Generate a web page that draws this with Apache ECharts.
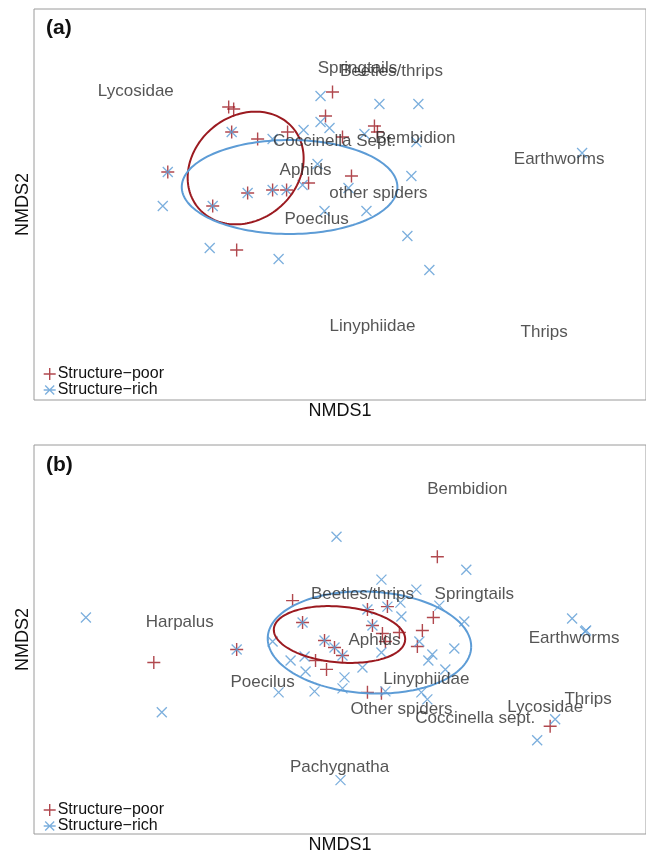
<!DOCTYPE html>
<html>
<head>
<meta charset="utf-8">
<script src="https://cdn.jsdelivr.net/npm/echarts@6/dist/echarts.min.js"></script>
<style>
html,body{margin:0;padding:0;background:#fff;}
#chart{width:646px;height:855px;}
</style>
</head>
<body>
<div id="chart"></div>
<script>
// ---------- Panel (a) ----------
const poorA = [
  [-0.07, 1.13], [-1.11, 0.98], [-1.06, 0.96], [-1.08, 0.73], [-0.82, 0.66],
  [-0.52, 0.73], [-0.14, 0.89], [-1.72, 0.33], [-0.31, 0.22], [-0.92, 0.12],
  [-0.67, 0.15], [-0.53, 0.15], [-1.27, -0.01], [-1.03, -0.45], [0.03, 0.68],
  [0.35, 0.79], [0.38, 0.73], [0.12, 0.29]
];
const richA = [
  [-0.19, 1.09], [0.40, 1.01], [0.79, 1.01], [-0.19, 0.83], [-0.10, 0.77],
  [-0.36, 0.75], [-0.67, 0.66], [0.25, 0.71], [0.77, 0.63], [2.43, 0.52],
  [-0.22, 0.41], [0.72, 0.29], [0.09, 0.17], [-0.37, 0.20], [-1.08, 0.73],
  [-1.72, 0.33], [-0.92, 0.12], [-0.67, 0.15], [-0.53, 0.15], [-1.27, -0.01],
  [-1.77, -0.01], [-1.30, -0.43], [-0.61, -0.54], [-0.15, -0.06], [0.27, -0.06],
  [0.68, -0.31], [0.90, -0.65]
];
const taxaA = ['Lycosidae', 'Springtails', 'Beetles/thrips', 'Coccinella Sept.', 'Bembidion',
  'Earthworms', 'Aphids', 'other spiders', 'Poecilus', 'Linyphiidae', 'Thrips'];
const taxaPosA = [
  [-2.04, 1.14], [0.18, 1.37], [0.52, 1.34], [-0.05, 0.64], [0.76, 0.67],
  [2.20, 0.46], [-0.34, 0.35], [0.39, 0.12], [-0.23, -0.14], [0.33, -1.21], [2.05, -1.27]
];
// ellipse: [centre x, centre y, semi-axis a, semi-axis b, angle deg]
const ellipsePoorA = [-0.94, 0.37, 0.62, 0.52, 40];
const ellipseRichA = [-0.50, 0.18, 1.08, 0.47, 0];

// ---------- Panel (b) ----------
const poorB = [
  [-0.47, 0.39], [-0.37, 0.17], [-1.03, -0.10], [-1.86, -0.23], [-0.15, -0.01],
  [-0.05, -0.08], [0.03, -0.16], [-0.24, -0.21], [-0.13, -0.30], [0.28, -0.53],
  [0.42, -0.54], [0.98, 0.83], [0.28, 0.30], [0.48, 0.33], [0.33, 0.14],
  [0.94, 0.22], [0.83, 0.09], [0.43, 0.06], [0.60, 0.07], [0.46, -0.02],
  [0.78, -0.07], [2.11, -0.87]
];
const richB = [
  [-0.03, 1.03], [-2.54, 0.22], [-1.78, -0.73], [-0.37, 0.17], [-1.03, -0.10],
  [-0.67, -0.02], [-0.15, -0.01], [-0.05, -0.08], [0.03, -0.16], [-0.49, -0.21],
  [-0.35, -0.17], [-0.34, -0.32], [-0.61, -0.53], [-0.25, -0.52], [0.05, -0.38],
  [0.03, -0.49], [0.01, -1.41], [1.27, 0.70], [0.42, 0.60], [0.77, 0.50],
  [0.61, 0.37], [0.28, 0.30], [0.48, 0.33], [0.62, 0.23], [1.00, 0.34],
  [1.25, 0.18], [0.33, 0.14], [0.80, -0.02], [1.15, -0.09], [0.93, -0.15],
  [0.89, -0.21], [0.42, -0.13], [0.23, -0.28], [1.06, -0.30], [0.46, -0.52],
  [0.82, -0.53], [0.88, -0.60], [2.33, 0.21], [2.46, 0.08], [2.47, 0.09],
  [2.16, -0.80], [1.98, -1.01]
];
const taxaB = ['Bembidion', 'Harpalus', 'Beetles/thrips', 'Springtails', 'Earthworms',
  'Aphids', 'Poecilus', 'Linyphiidae', 'Other spiders', 'Coccinella sept.', 'Lycosidae',
  'Thrips', 'Pachygnatha'];
const taxaPosB = [
  [1.28, 1.51], [-1.60, 0.17], [0.23, 0.45], [1.35, 0.45], [2.35, 0.01],
  [0.35, -0.01], [-0.77, -0.43], [0.87, -0.40], [0.62, -0.70], [1.36, -0.79],
  [2.06, -0.68], [2.49, -0.60], [0.00, -1.28]
];
const ellipsePoorB = [0.00, 0.05, 0.66, 0.28, -5];
const ellipseRichB = [0.30, -0.03, 1.02, 0.51, -3];

const groupNames = ['Structure\u2212poor', 'Structure\u2212rich'];

// ---------- styling ----------
const RED = '#9e1a22';
const BLUE = '#5b9bd5';
const RED_LINE = '#9b1a20';
const BLUE_LINE = '#5d9cd6';
const FONT = '"Liberation Sans", Arial, sans-serif';
const PLUS = 'path://M0,-1L0,1M-1,0L1,0';
const CROSS = 'path://M-1,-1L1,1M-1,1L1,-1';
const STAR = 'path://M-1,0L1,0M-0.75,-0.75L0.75,0.75M-0.75,0.75L0.75,-0.75';

function ellipseRender(color) {
  return function (params, api) {
    const cx = api.value(0), cy = api.value(1), a = api.value(2), b = api.value(3);
    const ang = api.value(4) * Math.PI / 180;
    const pts = [];
    const n = 160;
    for (let i = 0; i <= n; i++) {
      const t = i / n * 2 * Math.PI;
      const x = a * Math.cos(t), y = b * Math.sin(t);
      pts.push(api.coord([cx + x * Math.cos(ang) - y * Math.sin(ang),
                          cy + x * Math.sin(ang) + y * Math.cos(ang)]));
    }
    return { type: 'polyline', shape: { points: pts },
             style: { stroke: color, lineWidth: 2, fill: null } };
  };
}

function panelSeries(idx, poor, rich, ePoor, eRich, names, pos) {
  return [
    { type: 'scatter', name: groupNames[0], xAxisIndex: idx, yAxisIndex: idx,
      data: poor, symbol: PLUS, symbolSize: 13, silent: true,
      itemStyle: { color: 'rgba(0,0,0,0)', borderColor: RED, borderWidth: 1.4 } },
    { type: 'scatter', name: groupNames[1], xAxisIndex: idx, yAxisIndex: idx,
      data: rich, symbol: CROSS, symbolSize: 10, silent: true,
      itemStyle: { color: 'rgba(0,0,0,0)', borderColor: BLUE, borderWidth: 1.3 } },
    { type: 'custom', xAxisIndex: idx, yAxisIndex: idx, silent: true,
      data: [ePoor], encode: { x: 0, y: 1 }, renderItem: ellipseRender(RED_LINE), z: 3 },
    { type: 'custom', xAxisIndex: idx, yAxisIndex: idx, silent: true,
      data: [eRich], encode: { x: 0, y: 1 }, renderItem: ellipseRender(BLUE_LINE), z: 3 },
    { type: 'scatter', xAxisIndex: idx, yAxisIndex: idx, silent: true, z: 4,
      symbolSize: 0, itemStyle: { color: 'rgba(0,0,0,0)' },
      data: names.map((n, i) => ({ name: n, value: pos[i] })),
      label: { show: true, position: 'inside', formatter: '{b}', color: '#2a2a2a',
               textBorderWidth: 0, textBorderColor: 'transparent',
               fontSize: 17, fontFamily: FONT } }
  ];
}

function axisX(idx) {
  return { type: 'value', gridIndex: idx, min: -3.06, max: 3.07,
    axisLine: { show: false }, axisTick: { show: false }, axisLabel: { show: false },
    splitLine: { show: false },
    name: 'NMDS1', nameLocation: 'middle', nameGap: 2,
    nameTextStyle: { fontSize: 18, color: '#111', fontFamily: FONT } };
}
function axisY(idx, min, max) {
  return { type: 'value', gridIndex: idx, min: min, max: max,
    axisLine: { show: false }, axisTick: { show: false }, axisLabel: { show: false },
    splitLine: { show: false },
    name: 'NMDS2', nameLocation: 'middle', nameGap: 2, nameRotate: 90,
    nameTextStyle: { fontSize: 18, color: '#111', fontFamily: FONT } };
}
function legendAt(top) {
  return { orient: 'vertical', left: 43, top: top, padding: 0, itemGap: 0,
    itemWidth: 12, itemHeight: 12, selectedMode: false,
    data: [
      { name: groupNames[0], icon: PLUS,
        itemStyle: { color: 'rgba(0,0,0,0)', borderColor: RED, borderWidth: 1.4 } },
      { name: groupNames[1], icon: STAR,
        itemStyle: { color: 'rgba(0,0,0,0)', borderColor: BLUE, borderWidth: 1.3 } }
    ],
    textStyle: { fontSize: 16, lineHeight: 14, color: '#111', fontFamily: FONT, padding: [0, 0, 0, -3] } };
}

const chart = echarts.init(document.getElementById('chart'), null, { renderer: 'canvas' });
chart.setOption({
  animation: false,
  backgroundColor: '#fff',
  title: [
    { text: '(a)', left: 46, top: 18, padding: 0,
      textStyle: { fontSize: 21, fontWeight: 'bold', color: '#111', fontFamily: FONT } },
    { text: '(b)', left: 46, top: 455, padding: 0,
      textStyle: { fontSize: 21, fontWeight: 'bold', color: '#111', fontFamily: FONT } }
  ],
  grid: [
    { left: 34, top: 9, width: 613, height: 391, show: true, borderColor: '#9a9a9a', borderWidth: 1, containLabel: false },
    { left: 34, top: 445, width: 613, height: 390, show: true, borderColor: '#9a9a9a', borderWidth: 1, containLabel: false }
  ],
  xAxis: [axisX(0), axisX(1)],
  yAxis: [axisY(0, -1.95, 1.96), axisY(1, -1.95, 1.95)],
  legend: [legendAt(366), legendAt(802)],
  series: [].concat(
    panelSeries(0, poorA, richA, ellipsePoorA, ellipseRichA, taxaA, taxaPosA),
    panelSeries(1, poorB, richB, ellipsePoorB, ellipseRichB, taxaB, taxaPosB)
  )
});
</script>
</body>
</html>
